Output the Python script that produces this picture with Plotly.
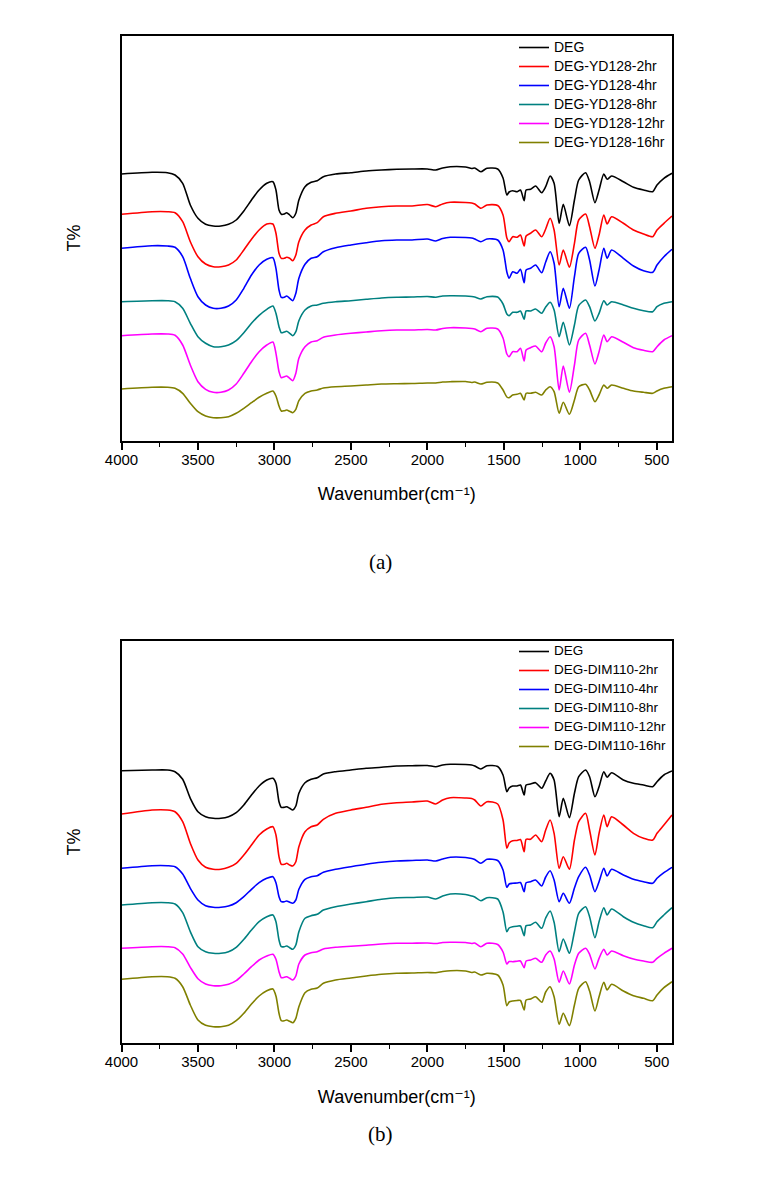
import numpy as np
import plotly.graph_objects as go

# Wavenumber grid (cm-1) shared by all spectra
wavenumber = [4000, 3800, 3700, 3650, 3600, 3550, 3500, 3450, 3400, 3350,
              3300, 3250, 3200, 3150, 3100, 3050, 3010, 2990, 2970, 2955,
              2935, 2920, 2900, 2880, 2860, 2840, 2800, 2760, 2720, 2680,
              2600, 2500, 2400, 2300, 2200, 2100, 2000, 1945, 1900, 1850,
              1750, 1710, 1690, 1650, 1610, 1540, 1505, 1480, 1465, 1442,
              1413, 1391, 1367, 1354, 1325, 1292, 1252, 1226, 1197, 1171,
              1138, 1111, 1071, 1038, 1010, 965, 939, 904, 877, 846,
              824, 795, 718, 652, 586, 526, 498, 453, 400]

# Panel (a) readings (inverted, offset transmittance scale)
yd_deg = [174, 172.3, 172.7, 175, 183.3, 205, 218.3, 224.3, 226, 226,
          224.3, 220, 211, 200, 190, 183.3, 181.7, 190, 210, 214.3,
          214, 212.7, 215, 217.7, 213.3, 200, 186.7, 182.3, 180.7, 176.7,
          174, 172.7, 171, 170, 169.3, 169, 169, 170, 168, 166.7,
          167, 168.5, 168, 171.7, 168.3, 169, 178, 195, 192, 190.7,
          191.7, 190, 200.7, 190, 189.3, 186, 192.7, 186.7, 176, 183.3,
          223.3, 204.3, 225.7, 200, 180, 172.7, 181.7, 202.7, 190, 174,
          179.3, 176, 181.7, 187.3, 190, 191.7, 185, 178.3, 173.3]
yd_2hr = [214.3, 211.7, 211.7, 212.7, 221.7, 241.7, 256.7, 264, 266.7, 266.7,
          265, 260, 250, 239.3, 230, 224, 224, 233.3, 253.3, 258.3,
          258.3, 257.3, 258.3, 260.7, 255, 241.7, 230, 225, 222.7, 216.7,
          213.3, 211, 208.3, 206.7, 206, 206, 204.5, 206.7, 204, 202.3,
          202.5, 203, 204, 208.3, 205, 205.5, 215, 238, 241.7, 236.7,
          237.3, 235, 246, 236, 233.3, 230, 236.7, 229, 218.3, 230,
          265, 250, 267.3, 243.3, 220, 214, 226.7, 248.3, 235, 215,
          224, 216.7, 223.3, 230, 234, 236.7, 230, 223.3, 216]
yd_4hr = [248.3, 245.7, 246, 247.3, 256.7, 278.3, 296.7, 305, 308.3, 308.3,
          306, 300, 288.3, 275, 265, 259.3, 257.7, 268.3, 290, 297.3,
          297.3, 296, 298.3, 300.7, 293.3, 278.3, 264.3, 258.3, 256.7, 251.7,
          247.7, 245, 242.7, 240.7, 240, 240, 239, 241, 238.5, 237.3,
          237.5, 238, 239, 241.7, 239, 240, 250, 272, 278.3, 271.7,
          273.3, 269.3, 282.7, 270, 268.3, 265, 272.7, 262, 251.7, 263.3,
          306.7, 288.3, 308.3, 276.7, 253.3, 247.3, 260, 286, 270, 248.3,
          258.3, 250, 258.3, 266, 270.7, 272.3, 265, 256.7, 249.3]
yd_8hr = [301.7, 300.7, 300.7, 301.7, 308.3, 323.3, 336.7, 343.3, 346.7, 346.7,
          345, 340.7, 332.7, 323.3, 315.3, 309.3, 306, 313.3, 326.7, 332.7,
          332, 331.3, 333.3, 335.7, 331.7, 320.7, 310, 306, 305, 303.3,
          301.7, 300.7, 299.3, 298, 297.3, 297, 296.5, 297.3, 296, 295.7,
          296, 296.5, 297, 299, 296.7, 297, 304, 314, 315.7, 312.3,
          312.3, 311, 319.3, 311, 311, 309, 313.3, 307, 302.3, 310,
          336.7, 322.3, 345, 325, 305.7, 300, 306.7, 321, 313.3, 300.7,
          305, 301.7, 305, 308.3, 310.7, 311.7, 306.7, 303.3, 301.7]
yd_12hr = [335.7, 334, 334, 335.3, 345, 365, 381.7, 389.3, 392.3, 392.3,
           390, 384, 373.3, 361.7, 351.7, 345, 342, 353.3, 371.7, 377.7,
           376.7, 376, 378.3, 380.7, 373.3, 358.3, 346.7, 342, 340.7, 337.3,
           335, 333.3, 332, 330.7, 330, 330, 329.5, 330, 328.5, 327.7,
           328, 328.5, 329, 331.7, 328.3, 329, 338, 354, 356.7, 351.7,
           351.7, 348.3, 361, 350, 347.7, 346, 351.7, 343, 336.7, 346.7,
           390, 366, 392.3, 365, 340, 333.3, 345, 364, 351.7, 335,
           341.7, 336.7, 342.3, 347.7, 350.3, 351.7, 346.7, 340, 335.7]
yd_16hr = [389, 387.3, 387.3, 388.3, 393.3, 403.3, 411.7, 416, 417.7, 417.7,
           416.7, 413.3, 408.3, 402.7, 397.3, 393.3, 391, 396, 406, 411,
           410.7, 410, 411.3, 412.7, 409.3, 400.7, 393.3, 391, 390, 388,
           386.7, 386, 385, 384, 383.7, 383.5, 383, 383, 382, 381.7,
           381.5, 382.5, 382, 384, 382.3, 383, 390, 397, 397.7, 395,
           394.3, 393.3, 400, 393.3, 393.3, 392.3, 395, 390, 386.7, 391.7,
           413.3, 402.3, 414.3, 400, 386.7, 384.3, 390, 401.7, 395, 385,
           388.3, 385, 388.3, 391, 392.3, 393.3, 391, 388.3, 386.7]

# Panel (b) readings
dim_deg = [770.7, 770, 770, 771.7, 779.3, 798.3, 811.7, 816.7, 818.3, 818.3,
           816.7, 812.7, 805, 795, 786, 780, 778.3, 783.3, 801.7, 807.3,
           807.3, 806.7, 808.3, 810, 806, 793.3, 782.7, 779.3, 777.7, 774,
           771.7, 770, 768.3, 767.3, 766, 765.7, 765.5, 766.7, 765, 764.3,
           764.5, 765, 766, 769, 765.7, 766.5, 775, 791.7, 788, 786,
           786, 785, 795, 785, 784, 782.7, 788.3, 781, 773.3, 780,
           816.7, 798.3, 817.7, 793.3, 776.7, 770, 776.7, 796.7, 786.7, 771.7,
           777.3, 772.7, 780, 783.3, 785, 786.7, 781.7, 775, 771]
dim_2hr = [814, 810, 810, 811.7, 821.7, 843.3, 860, 867.3, 869.3, 869.3,
           867.3, 863.3, 855, 845, 835, 829, 826.7, 835, 856.7, 864.3,
           864.3, 863.3, 865, 866, 861.7, 846.7, 831.7, 826.7, 825, 819.3,
           813.3, 810, 807.3, 804.3, 802.7, 802, 801, 804, 800, 797.7,
           798, 798.5, 800, 806, 801.7, 804, 820, 848.3, 843, 840.7,
           840.5, 839.5, 851.7, 839.3, 839.3, 835, 841.7, 830, 820, 833.3,
           868.3, 856.7, 869.3, 840, 821.7, 813.3, 830, 855, 833.3, 815,
           826.7, 816.7, 825, 833.3, 838.3, 840, 833.3, 825, 815]
dim_4hr = [868.3, 865.7, 865.7, 866.7, 874, 888.3, 900, 905.7, 907.3, 907.3,
           906, 902.7, 896.7, 889.3, 882.7, 878.3, 876.7, 882.7, 896.7, 901.7,
           901.7, 901, 902.3, 903.3, 900, 889.3, 879.3, 876.7, 875.7, 872.3,
           869.3, 866.7, 864.3, 862.3, 861, 860.5, 860, 861, 859, 857.3,
           857.5, 858.5, 859.5, 863.3, 859.3, 860.5, 870, 887.3, 884, 883.3,
           883, 882.5, 891.7, 882.7, 881.7, 880, 886, 877, 870.7, 880,
           901.7, 893.3, 903.3, 888, 876.7, 867.3, 875, 891.7, 881.7, 868.3,
           876, 869.3, 875, 879.3, 881.7, 883.3, 878.3, 872.7, 867.3]
dim_8hr = [905, 902.7, 902.7, 904, 912.7, 931.7, 946.7, 951.7, 953.3, 953.3,
           951.7, 947.3, 939.3, 930, 921.7, 916.7, 915, 921.7, 940, 946.7,
           946.7, 946, 947.7, 949.3, 945, 931.7, 918.3, 915.7, 914.3, 910,
           906.7, 904, 901.7, 899.3, 897.7, 897.5, 897, 899, 896, 894,
           894.5, 896, 897, 900.7, 897.7, 899, 912, 931.7, 928, 926.7,
           926.2, 926, 935.7, 925.7, 925, 922.3, 928.3, 918, 911, 922.3,
           951.7, 939, 953.3, 931.7, 913.3, 906.7, 916.7, 937.7, 921.7, 907.7,
           915, 909, 916.7, 922.3, 925.7, 927.7, 921.7, 915, 907.7]
dim_12hr = [948.3, 946.7, 946.7, 947.7, 954, 967.3, 978.7, 984, 985.7, 985.7,
            984.3, 980.7, 974, 966.7, 960, 956, 954.3, 959.3, 971.7, 977.7,
            977.3, 976.7, 978.3, 980, 976, 964, 955, 952.7, 951.7, 949,
            947.3, 946.3, 945.3, 944, 943.3, 943.2, 943, 943.5, 942.5, 942.3,
            942.5, 943.5, 943, 946.7, 943.3, 944.5, 952, 964, 961.5, 961.7,
            961.2, 961, 967.7, 961, 960, 958.3, 962.3, 955, 951, 959,
            982.3, 971, 984, 965, 953.3, 948.3, 954.3, 969, 958.3, 949.3,
            955, 951, 955.7, 959, 961, 962.3, 958.3, 953.3, 948.3]
dim_16hr = [979.3, 976.7, 976.7, 978.3, 986.7, 1005, 1020, 1025.3, 1026.7, 1026.7,
            1025.3, 1020.7, 1013.3, 1004, 996, 990.7, 989, 996, 1013.3, 1020.7,
            1020.7, 1020, 1021.3, 1022.7, 1018.3, 1006.7, 992.7, 989.3, 988, 983.3,
            980, 978, 976, 974.3, 973.3, 973, 972.5, 972.7, 971.5, 970.7,
            971, 972.5, 972, 975, 973.3, 975, 985, 1005.7, 1002, 1001,
            1000.5, 1000.5, 1010, 1000, 999, 996.7, 1002.3, 992, 986.7, 996.7,
            1024.3, 1013.3, 1025.7, 1005, 988.3, 981.7, 991, 1011, 996.7, 982.3,
            990, 984.3, 991, 995.7, 998.3, 1000.7, 995, 987.7, 981.7]

names_a = ["DEG", "DEG-YD128-2hr", "DEG-YD128-4hr", "DEG-YD128-8hr",
           "DEG-YD128-12hr", "DEG-YD128-16hr"]
names_b = ["DEG", "DEG-DIM110-2hr", "DEG-DIM110-4hr", "DEG-DIM110-8hr",
           "DEG-DIM110-12hr", "DEG-DIM110-16hr"]
colors = ["#000000", "#FF0000", "#0000FF", "#008080", "#FF00FF", "#808000"]
series_a = [yd_deg, yd_2hr, yd_4hr, yd_8hr, yd_12hr, yd_16hr]
series_b = [dim_deg, dim_2hr, dim_4hr, dim_8hr, dim_12hr, dim_16hr]


def to_T(readings, base, span):
    return (base - np.asarray(readings, dtype=float)) / span * 100.0


def legend_label(text, px):
    return '<span style="font-size:%gpx">%s</span>' % (px, text)


fig = go.Figure()
for name, col, s in zip(names_a, colors, series_a):
    fig.add_trace(go.Scatter(
        x=wavenumber, y=to_T(s, 440.5, 405.0), mode="lines",
        name=legend_label(name, 14),
        line=dict(color=col, width=1.6, shape="spline", smoothing=0.7),
        xaxis="x", yaxis="y", legend="legend"))
for name, col, s in zip(names_b, colors, series_b):
    fig.add_trace(go.Scatter(
        x=wavenumber, y=to_T(s, 1043.3, 402.8), mode="lines",
        name=legend_label(name, 13.5),
        line=dict(color=col, width=1.6, shape="spline", smoothing=0.7),
        xaxis="x2", yaxis="y2", legend="legend2"))

W, H = 774, 1182
xdom = [121.5 / W, 672 / W]
ydom_a = [1 - 440.5 / H, 1 - 35.5 / H]
ydom_b = [1 - 1043.3 / H, 1 - 640.5 / H]

font_tick = dict(family="Arial, Liberation Sans, sans-serif", size=15, color="black")
font_title = dict(family="Arial, Liberation Sans, DejaVu Sans, sans-serif", size=18, color="black")


def xaxis_cfg(anchor):
    return dict(
        domain=xdom, anchor=anchor, range=[4000, 400], automargin=False,
        tickmode="linear", tick0=0, dtick=500,
        ticks="outside", ticklen=7, tickwidth=1.5, tickcolor="black",
        ticklabelstandoff=-3,
        minor=dict(ticks="outside", ticklen=4, tickwidth=1.2, tickcolor="black",
                   tickmode="linear", tick0=0, dtick=250),
        showline=True, linewidth=2, linecolor="black", mirror=True,
        showgrid=False, zeroline=False, tickfont=font_tick,
        title=dict(text="Wavenumber(cm\u207b\u00b9)", font=font_title, standoff=21),
    )


def yaxis_cfg(dom, anchor):
    return dict(
        domain=dom, anchor=anchor, range=[0, 100], automargin=False,
        showline=True, linewidth=2, linecolor="black", mirror=True,
        ticks="", showticklabels=False, showgrid=False, zeroline=False,
        title=dict(text="T%", font=font_title, standoff=34),
    )


legend_font = dict(family="Arial, Liberation Sans, sans-serif", color="black")

fig.update_layout(
    width=W, height=H,
    margin=dict(l=0, r=0, t=0, b=0, autoexpand=False),
    paper_bgcolor="white", plot_bgcolor="white",
    xaxis=xaxis_cfg("y"), yaxis=yaxis_cfg(ydom_a, "x"),
    xaxis2=xaxis_cfg("y2"), yaxis2=yaxis_cfg(ydom_b, "x2"),
    legend=dict(x=514 / W, y=1 - 33 / H, xanchor="left", yanchor="top",
                bgcolor="rgba(0,0,0,0)", borderwidth=0, tracegroupgap=0,
                font=dict(size=11.7, **legend_font), itemwidth=30),
    legend2=dict(x=514 / W, y=1 - 637 / H, xanchor="left", yanchor="top",
                 bgcolor="rgba(0,0,0,0)", borderwidth=0, tracegroupgap=0,
                 font=dict(size=10.2, **legend_font), itemwidth=30),
    showlegend=True,
    annotations=[
        dict(text="(a)", x=380 / W, y=1 - 562 / H, xref="paper", yref="paper",
             showarrow=False, font=dict(family="Liberation Serif, DejaVu Serif, serif",
                                        size=21, color="black")),
        dict(text="(b)", x=380 / W, y=1 - 1148 / H, xref="paper", yref="paper",
             showarrow=False, font=dict(family="Liberation Serif, DejaVu Serif, serif",
                                        size=21, color="black")),
    ],
)

fig.write_html("out.html",
               config={"displayModeBar": False},
               post_script="document.body.style.margin='0';"
                           "document.body.style.overflow='hidden';")
